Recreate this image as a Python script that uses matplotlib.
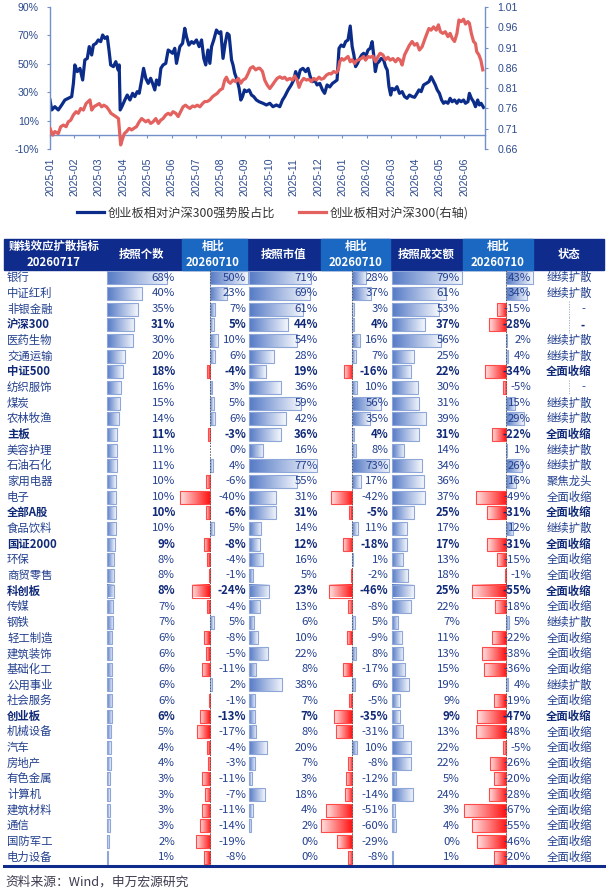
import numpy as np
import matplotlib
matplotlib.use('Agg')
import matplotlib.pyplot as plt
from matplotlib.colors import LinearSegmentedColormap
from matplotlib.patches import Rectangle

plt.rcParams['font.family'] = ['Noto Sans CJK SC', 'DejaVu Sans']

# ---------------- data: line chart ----------------
months = ['2025-01', '2025-02', '2025-03', '2025-04', '2025-05', '2025-06',
          '2025-07', '2025-08', '2025-09', '2025-10', '2025-11', '2025-12',
          '2026-01', '2026-02', '2026-03', '2026-04', '2026-05', '2026-06']

# time in months since 2025-01
blue_t = [0.00, 0.07, 0.20, 0.34, 0.48, 0.61, 0.75, 0.89, 0.96, 1.02,
          1.12, 1.23, 1.34, 1.43, 1.53, 1.61, 1.71, 1.78, 1.89, 1.98,
          2.08, 2.16, 2.25, 2.35, 2.42, 2.49, 2.60, 2.70, 2.80, 2.84,
          2.88, 2.95, 3.07, 3.17, 3.28, 3.39, 3.48, 3.58, 3.66, 3.76,
          3.84, 3.93, 4.03, 4.13, 4.21, 4.30, 4.37, 4.47, 4.55, 4.64,
          4.75, 4.85, 4.95, 5.03, 5.12, 5.19, 5.26, 5.33, 5.44, 5.53,
          5.60, 5.70, 5.81, 5.90, 6.01, 6.12, 6.22, 6.31, 6.39, 6.48,
          6.56, 6.63, 6.72, 6.83, 6.93, 7.01, 7.10, 7.19, 7.27, 7.35,
          7.45, 7.51, 7.58, 7.68, 7.76, 7.83, 7.90, 7.98, 8.06, 8.17,
          8.27, 8.36, 8.47, 8.58, 8.74, 8.88, 9.02, 9.15, 9.29, 9.43,
          9.54, 9.63, 9.77, 9.90, 10.00, 10.08, 10.18, 10.27, 10.38, 10.49,
          10.59, 10.68, 10.77, 10.86, 10.96, 11.07, 11.18, 11.27, 11.37, 11.48,
          11.59, 11.69, 11.78, 11.86, 11.95, 12.05, 12.13, 12.23, 12.32, 12.40,
          12.47, 12.54, 12.62, 12.71, 12.79, 12.87, 12.95, 13.05, 13.14, 13.22,
          13.29, 13.35, 13.42, 13.50, 13.59, 13.69, 13.77, 13.84, 13.91, 13.98,
          14.04, 14.14, 14.24, 14.34, 14.45, 14.55, 14.65, 14.75, 14.86, 14.96,
          15.06, 15.14, 15.23, 15.33, 15.44, 15.55, 15.64, 15.71, 15.81, 15.89,
          15.98, 16.07, 16.15, 16.23, 16.33, 16.42, 16.50, 16.60, 16.70, 16.78,
          16.87, 16.97, 17.05, 17.15, 17.21, 17.29, 17.38, 17.46, 17.55, 17.62,
          17.69, 17.79]
blue_v = [24.5, 17.5, 19.8, 17.5, 21.0, 24.5, 25.7, 26.9, 36.2, 49.2,
          44.5, 46.8, 38.6, 52.7, 53.8, 62.1, 56.2, 63.2, 64.4, 66.8,
          65.6, 70.3, 67.9, 69.1, 59.7, 49.2, 48.0, 51.5, 45.6, 49.2,
          17.5, 19.8, 24.5, 28.0, 24.5, 29.2, 26.9, 30.4, 29.2, 38.6,
          46.8, 39.8, 36.2, 39.8, 36.2, 31.6, 38.6, 35.1, 46.8, 49.2,
          50.3, 59.7, 58.5, 57.4, 60.9, 50.3, 56.2, 62.1, 64.4, 75.0,
          69.1, 63.2, 65.6, 64.4, 66.8, 62.1, 66.8, 53.8, 49.2, 59.7,
          50.3, 62.1, 66.8, 73.8, 71.5, 72.6, 53.8, 64.4, 71.5, 70.3,
          52.7, 49.2, 43.3, 38.6, 32.7, 24.5, 26.9, 31.6, 30.4, 31.6,
          28.0, 26.9, 24.5, 23.3, 22.2, 21.0, 22.2, 19.8, 21.0, 19.8,
          24.5, 26.9, 31.6, 35.1, 38.6, 44.5, 39.8, 45.6, 46.8, 44.5,
          46.8, 40.9, 37.4, 38.6, 35.1, 36.2, 31.6, 29.2, 35.1, 33.7,
          36.2, 37.4, 38.6, 60.9, 63.2, 62.1, 65.6, 66.8, 76.6, 62.1,
          56.2, 48.0, 50.3, 53.8, 56.2, 57.4, 55.0, 59.7, 60.9, 65.6,
          55.0, 44.5, 50.3, 51.5, 53.8, 52.7, 48.0, 45.6, 33.9, 28.0,
          32.7, 31.6, 33.9, 29.2, 30.4, 26.9, 25.7, 28.0, 26.9, 26.4,
          29.2, 31.6, 30.4, 35.1, 36.2, 37.4, 40.9, 38.6, 35.1, 31.6,
          29.2, 24.5, 22.2, 23.3, 22.2, 25.7, 23.3, 24.5, 22.2, 24.5,
          23.3, 24.5, 22.2, 23.3, 29.2, 25.7, 23.3, 19.8, 24.5, 21.0,
          22.2, 19.3]

red_t = [0.00, 0.11, 0.20, 0.34, 0.44, 0.55, 0.66, 0.75, 0.85, 0.96,
         1.07, 1.16, 1.26, 1.37, 1.48, 1.57, 1.64, 1.71, 1.80, 1.91,
         2.02, 2.12, 2.21, 2.32, 2.42, 2.50, 2.60, 2.70, 2.81, 2.86,
         2.90, 2.96, 3.05, 3.14, 3.25, 3.35, 3.44, 3.55, 3.66, 3.76,
         3.85, 3.93, 4.03, 4.13, 4.23, 4.34, 4.45, 4.54, 4.64, 4.75,
         4.85, 4.95, 5.05, 5.16, 5.26, 5.36, 5.46, 5.56, 5.64, 5.74,
         5.85, 5.94, 6.04, 6.15, 6.26, 6.35, 6.45, 6.56, 6.67, 6.76,
         6.86, 6.97, 7.08, 7.17, 7.24, 7.32, 7.40, 7.51, 7.62, 7.73,
         7.83, 7.92, 8.03, 8.13, 8.22, 8.33, 8.44, 8.54, 8.61, 8.72,
         8.81, 8.91, 9.02, 9.13, 9.22, 9.32, 9.43, 9.54, 9.63, 9.73,
         9.84, 9.95, 10.04, 10.14, 10.22, 10.31, 10.41, 10.52, 10.63, 10.72,
         10.82, 10.93, 11.04, 11.13, 11.23, 11.34, 11.45, 11.54, 11.64, 11.75,
         11.83, 11.89, 11.97, 12.05, 12.13, 12.23, 12.32, 12.40, 12.50, 12.60,
         12.68, 12.77, 12.87, 12.95, 13.05, 13.14, 13.25, 13.36, 13.46, 13.55,
         13.66, 13.77, 13.87, 13.96, 14.07, 14.18, 14.28, 14.37, 14.45, 14.55,
         14.65, 14.75, 14.86, 14.96, 15.06, 15.16, 15.27, 15.37, 15.47, 15.55,
         15.64, 15.74, 15.85, 15.94, 16.02, 16.12, 16.22, 16.33, 16.42, 16.50,
         16.60, 16.70, 16.78, 16.87, 16.97, 17.05, 17.15, 17.21, 17.29, 17.38,
         17.46, 17.51, 17.60, 17.68, 17.76]
red_v = [0.711, 0.694, 0.703, 0.698, 0.715, 0.719, 0.715, 0.727, 0.731, 0.744,
         0.752, 0.748, 0.760, 0.756, 0.772, 0.777, 0.781, 0.756, 0.764, 0.768,
         0.772, 0.764, 0.768, 0.764, 0.756, 0.748, 0.744, 0.740, 0.735, 0.698,
         0.670, 0.682, 0.698, 0.703, 0.711, 0.707, 0.711, 0.715, 0.727, 0.735,
         0.731, 0.727, 0.731, 0.723, 0.727, 0.735, 0.723, 0.731, 0.735, 0.744,
         0.748, 0.744, 0.752, 0.748, 0.740, 0.752, 0.764, 0.768, 0.764, 0.760,
         0.766, 0.764, 0.768, 0.764, 0.772, 0.777, 0.777, 0.781, 0.789, 0.793,
         0.797, 0.805, 0.809, 0.830, 0.837, 0.826, 0.822, 0.830, 0.826, 0.834,
         0.822, 0.830, 0.834, 0.846, 0.859, 0.863, 0.855, 0.859, 0.859, 0.851,
         0.830, 0.818, 0.809, 0.818, 0.826, 0.834, 0.838, 0.834, 0.837, 0.830,
         0.834, 0.830, 0.840, 0.830, 0.812, 0.826, 0.834, 0.830, 0.832, 0.826,
         0.834, 0.830, 0.837, 0.832, 0.834, 0.842, 0.846, 0.845, 0.851, 0.848,
         0.855, 0.875, 0.883, 0.879, 0.883, 0.888, 0.875, 0.880, 0.871, 0.879,
         0.880, 0.883, 0.888, 0.879, 0.888, 0.886, 0.889, 0.875, 0.888, 0.896,
         0.892, 0.880, 0.886, 0.879, 0.883, 0.875, 0.883, 0.879, 0.867, 0.892,
         0.904, 0.916, 0.925, 0.916, 0.920, 0.904, 0.912, 0.929, 0.945, 0.957,
         0.953, 0.961, 0.953, 0.966, 0.949, 0.945, 0.949, 0.937, 0.945, 0.933,
         0.925, 0.945, 0.978, 0.974, 0.980, 0.968, 0.974, 0.970, 0.945, 0.925,
         0.920, 0.900, 0.892, 0.879, 0.855]

# ---------------- data: table ----------------
names = ['银行', '中证红利', '非银金融', '沪深300', '医药生物', '交通运输', '中证500',
         '纺织服饰', '煤炭', '农林牧渔', '主板', '美容护理', '石油石化', '家用电器',
         '电子', '全部A股', '食品饮料', '国证2000', '环保', '商贸零售', '科创板',
         '传媒', '钢铁', '轻工制造', '建筑装饰', '基础化工', '公用事业', '社会服务',
         '创业板', '机械设备', '汽车', '房地产', '有色金属', '计算机', '建筑材料',
         '通信', '国防军工', '电力设备']
cnt = [68, 40, 35, 31, 30, 20, 18, 16, 15, 14, 11, 11, 11, 10, 10, 10, 10, 9, 8,
       8, 8, 7, 7, 6, 6, 6, 6, 6, 6, 5, 4, 4, 3, 3, 3, 3, 2, 1]
cnt_chg = [50, 23, 7, 5, 10, 6, -4, 3, 5, 6, -3, 0, 4, -6, -40, -6, 5, -8, -4,
           -1, -24, -4, 5, -8, -5, -11, 2, -1, -13, -17, -4, -3, -11, -7, -11,
           -14, -19, -8]
mv = [71, 69, 61, 44, 54, 28, 19, 36, 59, 42, 36, 16, 77, 55, 31, 31, 14, 12, 16,
      5, 23, 13, 6, 10, 22, 8, 38, 7, 7, 8, 20, 7, 3, 18, 4, 2, 0, 0]
mv_chg = [28, 37, 3, 4, 16, 7, -16, 10, 56, 35, 4, 8, 73, 17, -42, -5, 11, -18, 1,
          -2, -46, -8, 5, -9, 8, -17, 6, -5, -35, -31, 10, -8, -12, -14, -51,
          -60, -29, -8]
amt = [79, 61, 53, 37, 56, 25, 22, 30, 31, 39, 31, 14, 34, 36, 37, 25, 17, 17, 13,
       18, 25, 22, 7, 11, 13, 15, 19, 9, 9, 13, 22, 22, 5, 24, 3, 4, 0, 1]
amt_chg = [43, 34, -15, -28, 2, 4, -34, -5, 15, 29, -22, 1, 26, 16, -49, -31, 12,
           -31, -15, -1, -55, -18, 5, -22, -38, -36, 4, -19, -47, -48, -5, -26,
           -20, -28, -67, -55, -46, -20]
status = ['继续扩散', '继续扩散', '-', '-', '继续扩散', '继续扩散', '全面收缩', '-',
          '继续扩散', '继续扩散', '全面收缩', '继续扩散', '继续扩散', '聚焦龙头',
          '全面收缩', '全面收缩', '继续扩散', '全面收缩', '全面收缩', '全面收缩',
          '全面收缩', '全面收缩', '继续扩散', '全面收缩', '全面收缩', '全面收缩',
          '继续扩散', '全面收缩', '全面收缩', '全面收缩', '全面收缩', '全面收缩',
          '全面收缩', '全面收缩', '全面收缩', '全面收缩', '全面收缩', '全面收缩']
bold_rows = ['沪深300', '中证500', '主板', '全部A股', '国证2000', '科创板', '创业板']
headers = ['赚钱效应扩散指标\n20260717', '按照个数', '相比\n20260710', '按照市值',
           '相比\n20260710', '按照成交额', '相比\n20260710', '状态']

# ---------------- figure ----------------
W, H = 606, 891
fig = plt.figure(figsize=(W / 100, H / 100), dpi=100)

# table layer in pixel coordinates
tax = fig.add_axes([0, 0, 1, 1])
tax.axis('off')

NAVY = '#0F2C8C'
LIGHT = '#1A68C2'
TXT = '#23408E'
TXT_B = '#102A78'

# header band
tax.add_patch(Rectangle((4, 238.5), 600, 31.5, color=NAVY, zorder=1))
head_edges = [4, 105, 182, 247, 321, 390, 463, 533, 604]
head_x = [54, 141.5, 213, 284, 356, 426, 498, 569]
for i, h in enumerate(headers):
    if h.startswith('相比'):
        tax.add_patch(Rectangle((head_edges[i], 238.5), head_edges[i + 1] - head_edges[i],
                                31.5, color=LIGHT, zorder=1))
    tax.text(head_x[i], 254.5, h, ha='center', va='center', color='white',
             fontsize=8.2, fontweight='bold', linespacing=1.3, zorder=5)

# gradient data bars
ROW0, ROWH, BH = 277.8, 15.66, 13.0
blue_cm = LinearSegmentedColormap.from_list('b', ['#557AC6', '#F3F6FC'])
red_cm = LinearSegmentedColormap.from_list('r', ['#FFE2E2', '#FF1414'])
grad = np.linspace(0, 1, 64).reshape(1, -1)


def data_bar(x0, x1, yc, neg):
    y0, y1 = yc - BH / 2, yc + BH / 2
    tax.imshow(grad, cmap=red_cm if neg else blue_cm, extent=(x0, x1, y1, y0),
               aspect='auto', interpolation='bilinear', zorder=2)
    tax.add_patch(Rectangle((x0, y0), x1 - x0, BH, fill=False,
                            ec='#FF4A4A' if neg else '#8FA6D8', lw=0.8, zorder=3))


LEVEL_SCALE = 0.88
level_cols = [(cnt, 107, 175), (mv, 249, 318), (amt, 392, 460)]
chg_cols = [(cnt_chg, 210, 0.75, 246), (mv_chg, 352, 0.51, 388.5), (amt_chg, 506, 0.62, 531)]

for i, name in enumerate(names):
    yc = ROW0 + i * ROWH
    b = name in bold_rows
    col = TXT_B if b else TXT
    fw = 'bold' if b else 'normal'
    tax.text(7, yc, name, ha='left', va='center', fontsize=8.2, color=col,
             fontweight=fw, zorder=5)
    for vals, left, tr in level_cols:
        v = vals[i]
        if v > 0:
            data_bar(left, left + v * LEVEL_SCALE, yc, False)
        tax.text(tr, yc, f'{v}%', ha='right', va='center', fontsize=8.2,
                 color=col, fontweight=fw, zorder=5)
    for vals, axis_x, sc, tr in chg_cols:
        v = vals[i]
        if v > 0:
            data_bar(axis_x, axis_x + v * sc, yc, False)
        elif v < 0:
            data_bar(axis_x + v * sc, axis_x, yc, True)
        tax.text(tr, yc, f'{v}%', ha='right', va='center', fontsize=8.2,
                 color=col, fontweight=fw, zorder=5)
    s = status[i]
    if s == '-':
        tax.plot([569, 569], [yc - ROWH / 2, yc + ROWH / 2], color='#9AA5BF',
                 lw=0.6, ls=(0, (1.5, 1.5)), zorder=4)
        tax.text(583, yc, s, ha='center', va='center', fontsize=8.2,
                 color=col, fontweight=fw, zorder=5)
    else:
        tax.text(569, yc, s, ha='center', va='center', fontsize=8.2,
                 color=col, fontweight=fw, zorder=5)

# zero axes of change columns
tax.vlines([c[1] for c in chg_cols], 270, 864, colors='#555555', lw=0.7,
           linestyles=(0, (1.5, 1.5)), zorder=4)
# bottom rule and source
tax.plot([4, 604], [865.5, 865.5], color=NAVY, lw=2.2, zorder=5)
tax.text(5, 882, '资料来源：Wind，申万宏源研究', ha='left', va='center',
         fontsize=9.2, color='#3C3C50')

tax.set_xlim(0, W)
tax.set_ylim(H, 0)

# ---------------- line chart ----------------
SPINE = '#7391C9'
TICK = '#2B4A8B'
ax = fig.add_axes([50 / W, 1 - 149 / H, 434.5 / W, 142 / H])
ax2 = ax.twinx()
l1, = ax.plot(blue_t, blue_v, color='#0C2C8A', lw=2.3)
l2, = ax2.plot(red_t, red_v, color='#E3615E', lw=2.3)

ax.set_xlim(0, 17.83)
ax.set_ylim(-10, 90)
ax.set_yticks(range(-10, 91, 20))
ax.set_yticklabels([f'{v}%' for v in range(-10, 91, 20)])
ax2.set_ylim(0.66, 1.01)
r_ticks = [0.66, 0.71, 0.76, 0.81, 0.86, 0.91, 0.96, 1.01]
ax2.set_yticks(r_ticks)
ax2.set_yticklabels([f'{v:.2f}' for v in r_ticks])
ax.set_xticks(range(len(months)))
ax.set_xticklabels(months)

ax.spines['top'].set_visible(False)
ax.spines['right'].set_visible(False)
ax.spines['bottom'].set_position(('data', 0))
for sp in ['top', 'bottom', 'left']:
    ax2.spines[sp].set_visible(False)
for sp in [ax.spines['left'], ax.spines['bottom'], ax2.spines['right']]:
    sp.set_color(SPINE)
    sp.set_linewidth(1.0)

ax.tick_params(axis='x', direction='out', length=2.5, color=SPINE, pad=14,
               labelsize=7.6, labelcolor=TICK, labelrotation=90,
               labelfontfamily='Liberation Sans')
ax.tick_params(axis='y', direction='out', length=2.5, color=SPINE, pad=5.5,
               labelsize=7.6, labelcolor=TICK, labelfontfamily='Liberation Sans')
ax2.tick_params(axis='y', direction='out', length=2.5, color=SPINE, pad=7,
                labelsize=7.6, labelcolor=TICK, labelfontfamily='Liberation Sans')

fig.legend([l1, l2], ['创业板相对沪深300强势股占比', '创业板相对沪深300(右轴)'],
           loc='center', bbox_to_anchor=(273 / W, 1 - 213 / H), ncol=2,
           frameon=False, fontsize=8.8, handlelength=2.2, handletextpad=0.3,
           columnspacing=2.0, labelcolor='#333333')

fig.savefig('out.png', dpi=100)
